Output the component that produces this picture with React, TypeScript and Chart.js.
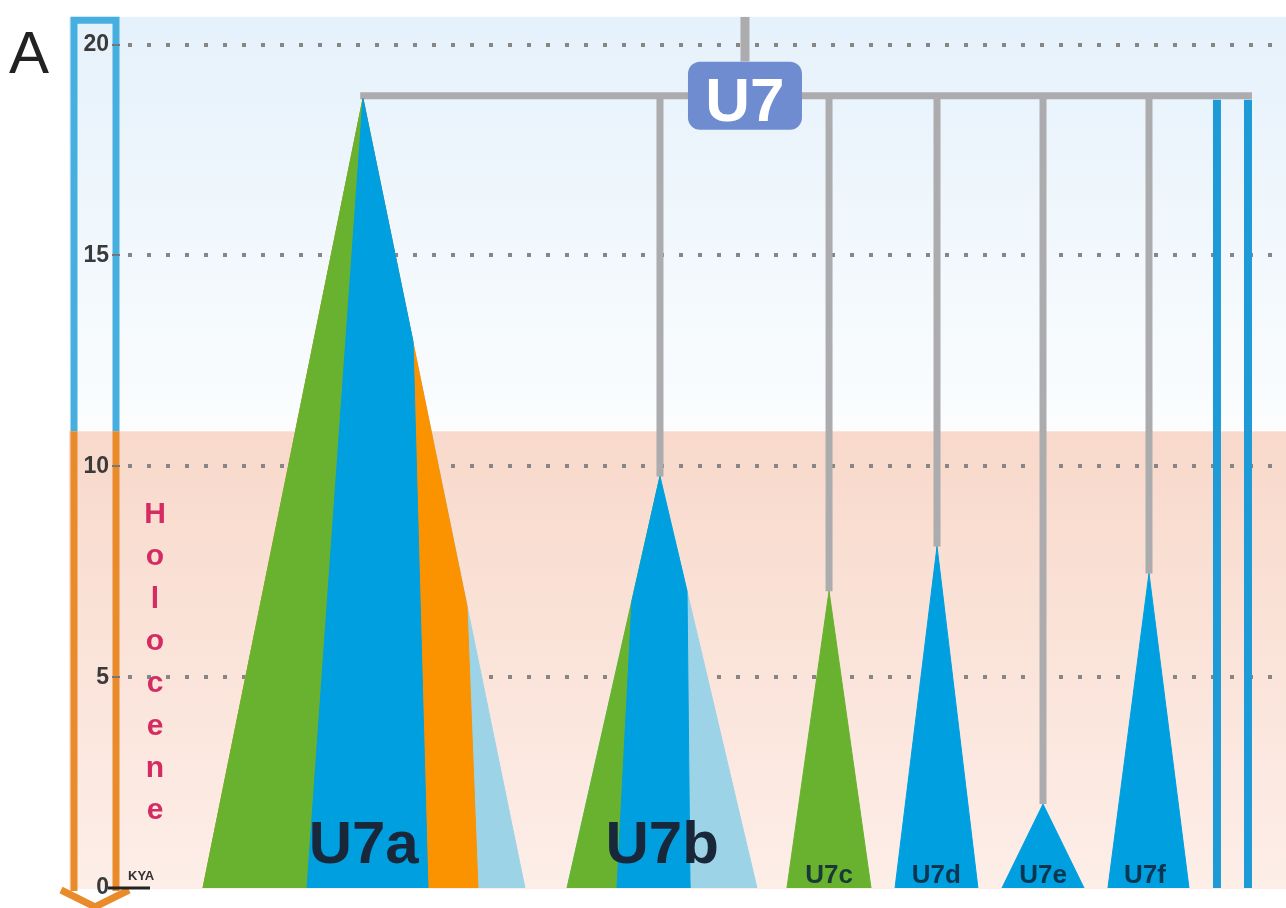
import React, { useEffect, useRef } from "react";
import { Chart, registerables } from "chart.js";

Chart.register(...registerables);

// ---- axis ----
const yTicks = [0, 5, 10, 15, 20];
const yMax = 20.66;
const xMin = 0;
const xMax = 100;
const holoceneStart = 10.83; // kya, start of Holocene band
const rootAge = 18.79; // U7 node (kya)

// ---- U7a (layered, bottom -> top) : [x, kya]
const u7aLightBlue = [[7.12, 0], [20.84, 18.72], [34.73, 0]];
const u7aOrange = [[7.12, 0], [20.84, 18.72], [29.76, 6.68], [30.7, 0]];
const u7aGreen = [[7.12, 0], [20.84, 18.72], [26.41, 0]];
const u7aBlue = [[16.04, 0], [20.84, 18.72], [25.13, 12.96], [26.41, 0]];

// ---- U7b (layered)
const u7bLightBlue = [[38.34, 0], [46.31, 9.76], [54.63, 0]];
const u7bGreen = [[38.34, 0], [46.31, 9.76], [48.89, 0]];
const u7bBlue = [[42.62, 0], [43.91, 6.8], [46.31, 9.76], [48.63, 7.04], [48.89, 0]];

// ---- single-colour subclades
const u7cShape = [[57.2, 0], [60.81, 7.04], [64.41, 0]];
const u7dShape = [[66.47, 0], [70.07, 8.1], [73.58, 0]];
const u7eShape = [[75.64, 0], [79.16, 1.99], [82.68, 0]];
const u7fShape = [[84.73, 0], [88.25, 7.46], [91.68, 0]];

// ---- tree stems
const stemX = [46.31, 60.81, 70.07, 79.16, 88.25];
const stemTop = [9.76, 7.04, 8.1, 1.99, 7.46];
const rootSpan = [20.6, 97.08];
const rootStemX = 53.6;
const rootStemBottom = 19.6;
const blueLineX = [94.08, 96.74];

// ---- labels
const bigLabels = ["U7a", "U7b"];
const bigLabelX = [20.9, 46.5];
const smallLabels = ["U7c", "U7d", "U7e", "U7f"];
const smallLabelX = [60.81, 70.0, 79.16, 87.9];
const holoceneText = "Holocene";
const rootLabel = "U7";
const unitLabel = "KYA";
const panelLabel = "A";

const GREEN = "#69b22f";
const BLUE = "#009fe0";
const ORANGE = "#fb9200";
const LIGHTBLUE = "#9dd3e6";
const GRAY = "#acacae";
const LINEBLUE = "#1e9bd7";

const pts = (a: number[][]) => a.map(([x, y]) => ({ x, y }));

const poly = (a: number[][], color: string, order: number) => ({
  data: pts(a),
  showLine: true,
  fill: "origin",
  backgroundColor: color,
  borderColor: color,
  borderWidth: 1,
  pointRadius: 0,
  tension: 0,
  order,
});

const seg = (a: number[][], color: string, width: number, order: number) => ({
  data: pts(a),
  showLine: true,
  fill: false,
  borderColor: color,
  backgroundColor: color,
  borderWidth: width,
  borderCapStyle: "butt",
  pointRadius: 0,
  tension: 0,
  order,
});

const FONT = "'Liberation Sans', Arial, sans-serif";

const deco = {
  id: "deco",
  beforeDraw(chart: any) {
    const { ctx, chartArea: a, scales } = chart;
    const y = scales.y;
    const yh = y.getPixelForValue(holoceneStart);
    const W = chart.width;
    ctx.save();
    ctx.fillStyle = "#ffffff";
    ctx.fillRect(0, 0, W, chart.height);
    const boxL = a.left - 51;
    let g = ctx.createLinearGradient(0, a.top, 0, yh);
    g.addColorStop(0, "#e5f1fb");
    g.addColorStop(1, "#fbfdfe");
    ctx.fillStyle = g;
    ctx.fillRect(boxL, a.top, W - boxL, yh - a.top);
    g = ctx.createLinearGradient(0, yh, 0, a.bottom);
    g.addColorStop(0, "#f8d9cb");
    g.addColorStop(1, "#fdeee8");
    ctx.fillStyle = g;
    ctx.fillRect(boxL, yh, W - boxL, a.bottom + 1 - yh);

    // time bar: blue (pre-Holocene) and orange (Holocene) with arrow
    const lx = a.left - 46;
    const rx = a.left - 4;
    ctx.lineWidth = 7;
    ctx.lineCap = "butt";
    ctx.strokeStyle = "#47afe0";
    ctx.beginPath();
    ctx.moveTo(lx, yh);
    ctx.lineTo(lx, a.top + 3.5);
    ctx.lineTo(rx, a.top + 3.5);
    ctx.lineTo(rx, yh);
    ctx.stroke();
    ctx.strokeStyle = "#e98a2b";
    ctx.beginPath();
    ctx.moveTo(lx, yh);
    ctx.lineTo(lx, a.bottom + 3);
    ctx.moveTo(rx, yh);
    ctx.lineTo(rx, a.bottom + 3);
    ctx.stroke();
    const cx = (lx + rx) / 2;
    ctx.lineJoin = "miter";
    ctx.beginPath();
    ctx.moveTo(cx - 34, a.bottom + 2);
    ctx.lineTo(cx, a.bottom + 19);
    ctx.lineTo(cx + 34, a.bottom + 2);
    ctx.stroke();
    ctx.restore();
  },
  afterDatasetsDraw(chart: any) {
    const { ctx, scales } = chart;
    const x = scales.x;
    const y = scales.y;
    ctx.save();
    // root label
    const cx = x.getPixelForValue(rootStemX);
    const cy = y.getPixelForValue(rootAge);
    ctx.fillStyle = "#6f8cd0";
    ctx.beginPath();
    (ctx as any).roundRect(cx - 57, cy - 34, 114, 68, 12);
    ctx.fill();
    ctx.fillStyle = "#ffffff";
    ctx.font = `bold 62px ${FONT}`;
    ctx.textAlign = "center";
    ctx.textBaseline = "alphabetic";
    ctx.fillText(rootLabel, cx, cy + 25);

    const base = y.getPixelForValue(0);
    ctx.fillStyle = "#18283a";
    ctx.font = `bold 60px ${FONT}`;
    bigLabels.forEach((t, i) => ctx.fillText(t, x.getPixelForValue(bigLabelX[i]), base - 25));
    ctx.fillStyle = "rgba(12,35,55,0.85)";
    ctx.font = `bold 26px ${FONT}`;
    smallLabels.forEach((t, i) => ctx.fillText(t, x.getPixelForValue(smallLabelX[i]), base - 5));
    ctx.restore();
  },
  afterDraw(chart: any) {
    const { ctx, chartArea: a } = chart;
    ctx.save();
    // Holocene vertical text
    ctx.fillStyle = "#d42b62";
    ctx.font = `bold 30px ${FONT}`;
    ctx.textAlign = "center";
    ctx.textBaseline = "alphabetic";
    holoceneText.split("").forEach((ch, i) => ctx.fillText(ch, a.left + 35, 523 + i * 42.3));
    // KYA
    ctx.fillStyle = "#333";
    ctx.font = `bold 13px ${FONT}`;
    ctx.textAlign = "left";
    ctx.fillText(unitLabel, a.left + 8, a.bottom - 8);
    ctx.strokeStyle = "#222";
    ctx.lineWidth = 3;
    ctx.beginPath();
    ctx.moveTo(a.left - 12, a.bottom);
    ctx.lineTo(a.left + 30, a.bottom);
    ctx.stroke();
    // panel letter
    ctx.fillStyle = "#222";
    ctx.font = `60px ${FONT}`;
    ctx.fillText(panelLabel, 9, 73);
    ctx.restore();
  },
};

export default function App() {
  const ref = useRef<HTMLCanvasElement>(null);
  useEffect(() => {
    const datasets: any[] = [];
    // stems and root
    stemX.forEach((sx, i) => datasets.push(seg([[sx, stemTop[i]], [sx, rootAge]], GRAY, 7, 30)));
    blueLineX.forEach((bx) => datasets.push(seg([[bx, 0], [bx, rootAge - 0.1]], LINEBLUE, 8, 31)));
    datasets.push(seg([[rootSpan[0], rootAge], [rootSpan[1], rootAge]], GRAY, 7, 25));
    datasets.push(seg([[rootStemX, rootStemBottom], [rootStemX, yMax]], GRAY, 9, 25));
    // U7a (higher order = drawn further back)
    datasets.push(poly(u7aLightBlue, LIGHTBLUE, 10));
    datasets.push(poly(u7aOrange, ORANGE, 9));
    datasets.push(poly(u7aGreen, GREEN, 8));
    datasets.push(poly(u7aBlue, BLUE, 7));
    // U7b
    datasets.push(poly(u7bLightBlue, LIGHTBLUE, 10));
    datasets.push(poly(u7bGreen, GREEN, 9));
    datasets.push(poly(u7bBlue, BLUE, 8));
    // others
    datasets.push(poly(u7cShape, GREEN, 8));
    datasets.push(poly(u7dShape, BLUE, 8));
    datasets.push(poly(u7eShape, BLUE, 8));
    datasets.push(poly(u7fShape, BLUE, 8));

    const chart = new Chart(ref.current as HTMLCanvasElement, {
      type: "scatter",
      data: { datasets },
      plugins: [deco],
      options: {
        animation: false,
        responsive: false,
        events: [],
        layout: { padding: { top: 15, bottom: 20, left: 0, right: 0 } },
        plugins: { legend: { display: false }, tooltip: { enabled: false } },
        scales: {
          x: { type: "linear", min: xMin, max: xMax, display: false },
          y: {
            type: "linear",
            min: 0,
            max: yMax,
            afterBuildTicks: (s: any) => {
              s.ticks = yTicks.map((v) => ({ value: v }));
            },
            afterFit: (s: any) => {
              s.width = 120;
            },
            border: { display: false, dash: [4, 15], dashOffset: -8 },
            grid: {
              color: (c: any) => (c.tick && c.tick.value === 0 ? "rgba(0,0,0,0)" : "#868686"),
              lineWidth: 4,
              tickLength: 8,
              tickWidth: 2,
              tickColor: (c: any) => (c.tick && c.tick.value === 0 ? "#222" : "#777"),
              tickBorderDash: [],
            },
            ticks: {
              color: "#3a3a3a",
              padding: 3,
              font: { family: "'Liberation Sans', Arial, sans-serif", size: 23, weight: "bold" },
              callback: (v: any) => String(v),
            },
          },
        },
      } as any,
    });
    return () => chart.destroy();
  }, []);
  return (
    <div style={{ position: "absolute", left: 0, top: 0, width: 1286, height: 908, background: "#fff" }}>
      <canvas ref={ref} width={1286} height={908} />
    </div>
  );
}
